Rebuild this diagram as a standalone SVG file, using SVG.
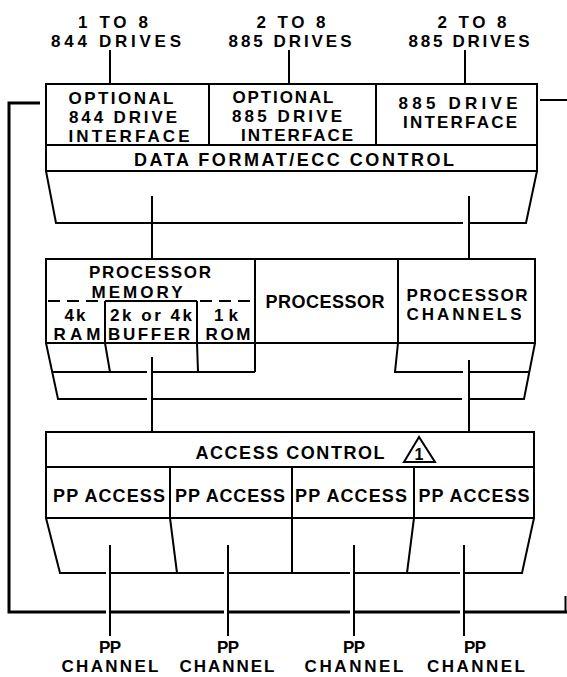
<svg xmlns="http://www.w3.org/2000/svg" width="567" height="677" viewBox="0 0 567 677">
<style>
.t{font-family:"Liberation Sans",Arial,sans-serif;font-weight:bold;font-size:17px;fill:#000;text-anchor:middle}
.b{font-size:18px}
.ln{stroke:#000;stroke-width:2;fill:none}
.bx{stroke:#000;stroke-width:2;fill:#fff}
.thick{stroke-width:3}
.dash{stroke-dasharray:12 7}
</style>
<rect width="567" height="677" fill="#fff"/>

<g id="connectors">
  <path class="ln" d="M110,50V84 M289,50V84 M465,50V84"/>
  <path class="ln" d="M46,171 L56,223 H463 M469,223 H526 L537,171"/>
  <path class="ln" d="M152,196V259 M469,196V259"/>
  <path class="ln" d="M46,343 L58,399 H147 M153,399 H462 M469,399 H524 L535,343"/>
  <path class="ln" d="M52,372 H147 M153,372 H255 M105,343 L110,372 M197,343 L198,372 M255,343 V372"/>
  <path class="ln" d="M398,343 L395,372 H463 M469,372 H529"/>
  <path class="ln" d="M152,357V432 M469,360V432"/>
  <path class="ln" d="M46,518 L60,573 H106 M110,573 H224 M228,573 H350 M354,573 H460 M464,573 H522 L534,518"/>
  <path class="ln" d="M170,518 L177,573 M292,518 V573 M414,518 L407,573"/>
  <path class="ln" d="M110,545V636 M228,545V636 M354,545V636 M464,545V636"/>
  <path class="ln thick" d="M40,103 H9 V612 H106 M110,612 H224 M228,612 H350 M354,612 H460 M464,612 H567"/>
  <path class="ln" d="M540,100 H567 M565.5,596 V612"/>
</g>

<g id="drive-labels">
  <text class="t" x="113" y="28" textLength="70" lengthAdjust="spacing">1 TO 8</text>
  <text class="t" x="116" y="47" textLength="130" lengthAdjust="spacing">844 DRIVES</text>
  <text class="t" x="291" y="28" textLength="69" lengthAdjust="spacing">2 TO 8</text>
  <text class="t" x="290" y="47" textLength="123" lengthAdjust="spacing">885 DRIVES</text>
  <text class="t" x="472" y="28" textLength="69" lengthAdjust="spacing">2 TO 8</text>
  <text class="t" x="469" y="47" textLength="121" lengthAdjust="spacing">885 DRIVES</text>
</g>

<g id="drive-interfaces">
  <rect class="bx" x="46" y="84" width="491" height="87"/>
  <path class="ln" d="M46,145 H537 M209,84 V145 M376,84 V145"/>
  <text class="t" x="121" y="104" textLength="105" lengthAdjust="spacing">OPTIONAL</text>
  <text class="t" x="123" y="123" textLength="108" lengthAdjust="spacing">844 DRIVE</text>
  <text class="t" x="129" y="142" textLength="121" lengthAdjust="spacing">INTERFACE</text>
  <text class="t" x="283" y="103" textLength="101" lengthAdjust="spacing">OPTIONAL</text>
  <text class="t" x="287" y="122" textLength="110" lengthAdjust="spacing">885 DRIVE</text>
  <text class="t" x="297" y="141" textLength="112" lengthAdjust="spacing">INTERFACE</text>
  <text class="t" x="458" y="109" textLength="119" lengthAdjust="spacing">885 DRIVE</text>
  <text class="t" x="460" y="128" textLength="114" lengthAdjust="spacing">INTERFACE</text>
  <text class="t b" x="294" y="166" textLength="320" lengthAdjust="spacing">DATA FORMAT/ECC CONTROL</text>
</g>

<g id="processor">
  <rect class="bx" x="46" y="259" width="489" height="84"/>
  <path class="ln" d="M255,259 V343 M398,259 V343"/>
  <path class="ln dash" d="M48,301 H255"/>
  <path class="ln" d="M105,301 H197 M105,301 V343 M197,301 V343"/>
  <text class="t" x="150" y="278" textLength="122" lengthAdjust="spacing">PROCESSOR</text>
  <text class="t" x="137" y="298" textLength="91" lengthAdjust="spacing">MEMORY</text>
  <text class="t" x="75" y="321" textLength="21" lengthAdjust="spacing">4k</text>
  <text class="t" x="77" y="340" textLength="47" lengthAdjust="spacing">RAM</text>
  <text class="t" x="151" y="321" textLength="82" lengthAdjust="spacing">2k or 4k</text>
  <text class="t" x="149" y="340" textLength="82" lengthAdjust="spacing">BUFFER</text>
  <text class="t" x="226" y="321" textLength="24" lengthAdjust="spacing">1k</text>
  <text class="t" x="228" y="340" textLength="45" lengthAdjust="spacing">ROM</text>
  <text class="t b" x="325" y="308" textLength="119" lengthAdjust="spacing">PROCESSOR</text>
  <text class="t" x="467" y="301" textLength="121" lengthAdjust="spacing">PROCESSOR</text>
  <text class="t" x="464" y="320" textLength="115" lengthAdjust="spacing">CHANNELS</text>
</g>

<g id="access-control">
  <rect class="bx" x="46" y="432" width="488" height="86"/>
  <path class="ln" d="M46,467 H534 M170,467 V518 M292,467 V518 M414,467 V518"/>
  <path class="ln" d="M419,437 L404,462 H435 Z"/>
  <text class="t" x="419" y="460" style="font-size:16px">1</text>
  <text class="t b" x="290" y="459" textLength="189" lengthAdjust="spacing">ACCESS CONTROL</text>
  <text class="t b" x="109" y="502" textLength="112" lengthAdjust="spacing">PP ACCESS</text>
  <text class="t b" x="230" y="502" textLength="110" lengthAdjust="spacing">PP ACCESS</text>
  <text class="t b" x="351" y="502" textLength="112" lengthAdjust="spacing">PP ACCESS</text>
  <text class="t b" x="474" y="502" textLength="111" lengthAdjust="spacing">PP ACCESS</text>
</g>

<g id="pp-channels">
  <text class="t" x="110" y="653" textLength="22" lengthAdjust="spacing">PP</text>
  <text class="t" x="110" y="672" textLength="97" lengthAdjust="spacing">CHANNEL</text>
  <text class="t" x="228" y="653" textLength="22" lengthAdjust="spacing">PP</text>
  <text class="t" x="227" y="672" textLength="95" lengthAdjust="spacing">CHANNEL</text>
  <text class="t" x="354" y="653" textLength="22" lengthAdjust="spacing">PP</text>
  <text class="t" x="354" y="672" textLength="99" lengthAdjust="spacing">CHANNEL</text>
  <text class="t" x="475" y="653" textLength="22" lengthAdjust="spacing">PP</text>
  <text class="t" x="476" y="672" textLength="98" lengthAdjust="spacing">CHANNEL</text>
</g>
</svg>
